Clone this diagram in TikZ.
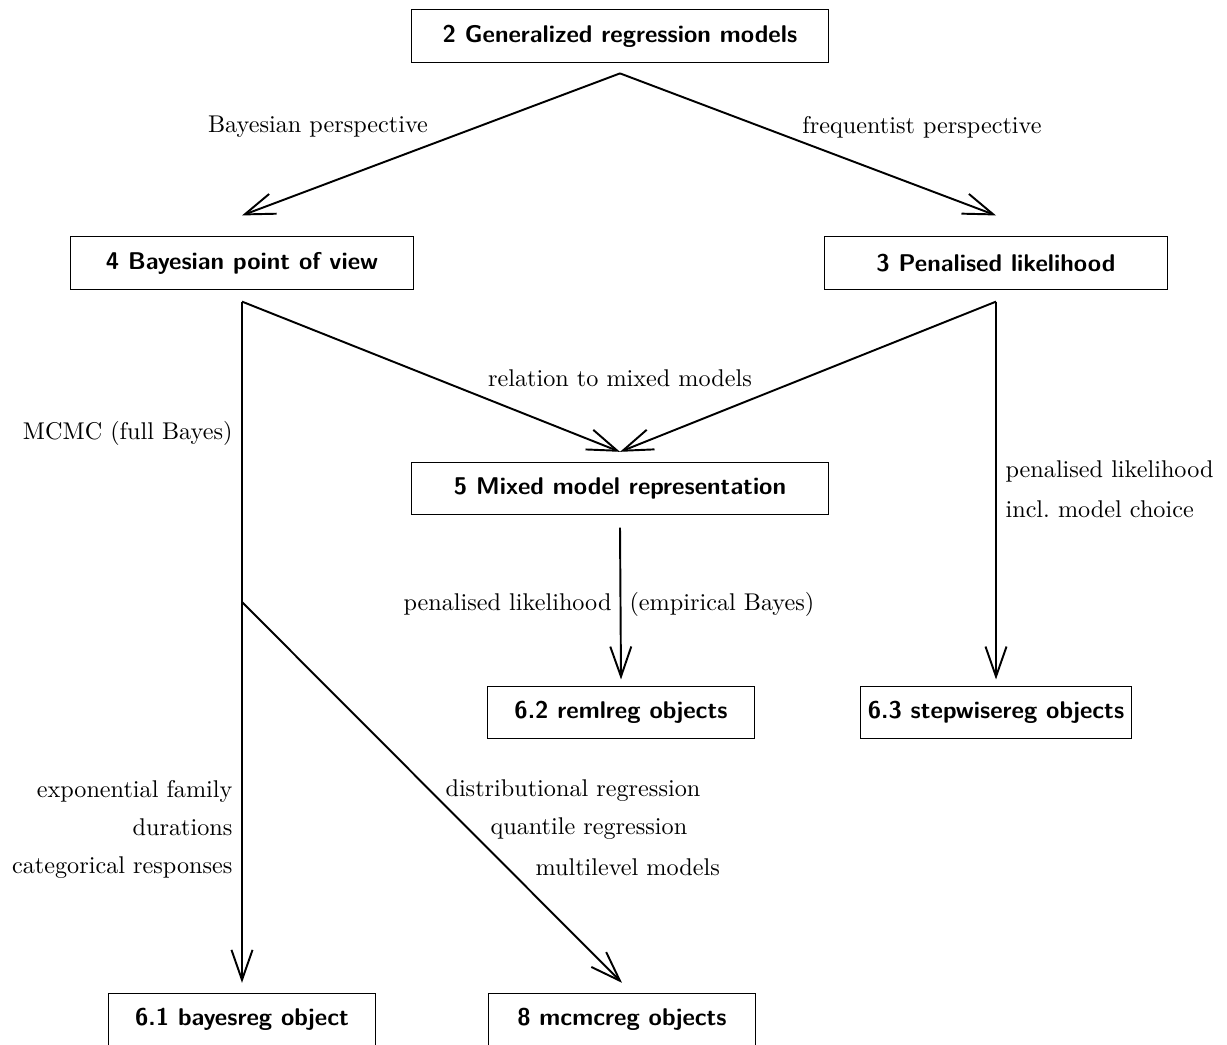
\documentclass[tikz,border=0pt]{standalone}
\usepackage{amsmath}
\usepackage{tikz}
\usetikzlibrary{arrows.meta,positioning}
\tikzstyle{box} = [draw, thin, font=\sffamily\bfseries, minimum height=21.5pt, minimum width=110pt, inner xsep=3pt]
\tikzstyle{bigbox} = [box, minimum width=172pt]
\tikzstyle{midbox} = [box, minimum width=142pt]
\tikzset{
  line/.style ={draw, thick, -{Straight Barb[length=12.4pt,width=8.7pt]}},
  plain/.style ={draw, thick}
}

\begin{document}
\begin{tikzpicture}[x=0.4132pt, y=-0.4132pt]
  \useasboundingbox (0,0) rectangle (1227,1044);
  \node[bigbox] (gen) at (620,36) {2 Generalized regression models};
  \node[midbox] (bayes) at (242,263) {4 Bayesian point of view};
  \node[midbox] (penal) at (996,263) {3 Penalised likelihood};
  \node[bigbox] (mixed) at (620,488) {5 Mixed model representation};
  \node[box] (reml) at (621,712) {6.2 remlreg objects};
  \node[box] (stepwise) at (996,712) {6.3 stepwisereg objects};
  \node[box] (bayesreg) at (242,1019) {6.1 bayesreg object};
  \node[box] (mcmcreg) at (622,1019) {8 mcmcreg objects};

  \coordinate[below=4.5pt of gen] (genout);
  \coordinate[above=8.7pt of bayes] (bayesin);
  \coordinate[above=8.7pt of penal] (penalin);
  \coordinate[below=5pt of bayes] (bayesout);
  \coordinate[below=5pt of penal] (penalout);
  \coordinate[above=4pt of mixed] (mixedin);
  \coordinate[below=5.4pt of mixed] (mixedout);
  \coordinate[above=2.5pt of reml] (remlin);
  \coordinate[above=2.5pt of stepwise] (stepin);
  \coordinate[above=4pt of bayesreg] (bayesregin);
  \coordinate[above=4pt of mcmcreg] (mcmcin);
  \path (bayesout) -- (bayesregin) coordinate[pos=0.441] (branch);

  \begin{scope}[every path/.style=line]
    \path (genout) -- (bayesin);
    \path (genout) -- (penalin);
    \path (bayesout) -- (mixedin);
    \path (penalout) -- (mixedin);
    \path (bayesout) -- (bayesregin);
    \path (penalout) -- (stepin);
    \path (mixedout) -- (remlin);
    \path (branch) -- (mcmcin);
  \end{scope}

  \node (bayespersp) at (318,127) {Bayesian perspective};
  \node (freqpersp) at (922,127) {frequentist perspective};
  \node (relmixed) at (620,378) {relation to mixed models};
  \node[anchor=east] (mcmclab) at (241,433) {MCMC (full Bayes)};
  \node[anchor=east] (penlab) at (620,604) {penalised likelihood};
  \node[anchor=west] (emplab) at (621,604) {(empirical Bayes)};
  \node[anchor=west, align=left] (steplab) at (997,489) {penalised likelihood\\[4.5pt]incl.\ model choice};
  \node[anchor=east, align=right] (famlab) at (241,829) {exponential family\\[3.7pt]durations\\[3.7pt]categorical responses};
  \node[anchor=west] (distlab) at (437,791) {distributional regression};
  \node[anchor=west] (quantlab) at (482,829) {quantile regression};
  \node[anchor=west] (multilab) at (527,867) {multilevel models};
\end{tikzpicture}
\end{document}
